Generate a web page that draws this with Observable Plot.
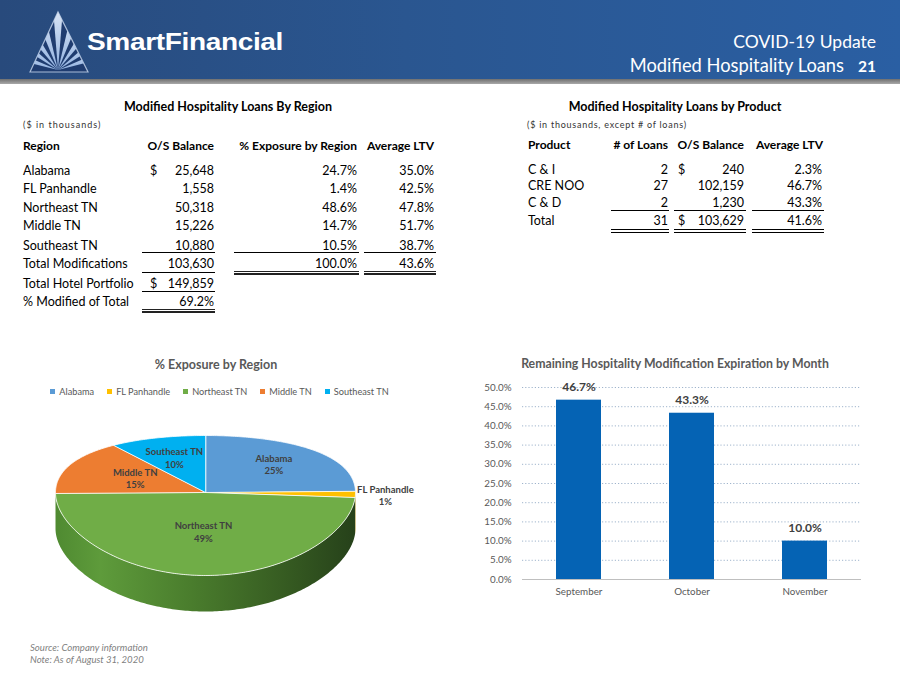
<!DOCTYPE html>
<html><head><meta charset="utf-8">
<script src="https://cdn.jsdelivr.net/npm/d3@7"></script>
<script src="https://cdn.jsdelivr.net/npm/@observablehq/plot@0.6"></script>
<style>
body{margin:0;width:900px;height:675px;position:relative;overflow:hidden;background:#fff;font-family:Lato,sans-serif;}
.abs{position:absolute;white-space:nowrap;line-height:1.2;}
.leg-swatches{font-size:9.2px;font-family:Lato,sans-serif;color:#595959;min-height:0;margin:0;justify-content:center;display:flex;align-items:center;flex-wrap:nowrap;}
.leg-swatch{margin-right:13px;display:inline-flex;align-items:center;}
.leg-swatch>svg{margin-right:4px;}
</style></head><body>
<script>
// ---------- DATA ----------
const regions = ["Alabama","FL Panhandle","Northeast TN","Middle TN","Southeast TN"];
const regionBalance = [25648,1558,50318,15226,10880];
const regionExposure = [24.7,1.4,48.6,14.7,10.5];
const regionLTV = [35.0,42.5,47.8,51.7,38.7];
const totalModifications = 103630, totalExposure = 100.0, totalLTV = 43.6;
const totalHotelPortfolio = 149859, pctModifiedOfTotal = 69.2;
const pieLabelPct = [25,1,49,15,10];

const products = ["C & I","CRE NOO","C & D"];
const productLoans = [2,27,2];
const productBalance = [240,102159,1230];
const productLTV = [2.3,46.7,43.3];
const productTotalLoans = 31, productTotalBalance = 103629, productTotalLTV = 41.6;

const months = ["September","October","November"];
const expirationPct = [46.7,43.3,10.0];

// ---------- STYLE ----------
const pieColors = ["#5B9BD5","#FFC000","#70AD47","#ED7D31","#00B0F0"];
const sideColors = ["#3f75a8","#b78a00","url(#neSide)","#b35c1f","#0088bb"];
const barColor = "#0563B4";
const REG = 12.5, BOLD = 12;

const body = document.body;
const fmt = d3.format(",");
function txt(x,y,s,o={}){
  const d=document.createElement("div");
  d.className="abs"; d.textContent=s;
  d.style.left=x+"px"; d.style.top=y+"px";
  d.style.fontSize=(o.size||REG)+"px";
  if(o.bold) d.style.fontWeight="bold";
  if(o.italic) d.style.fontStyle="italic";
  if(o.ls) d.style.letterSpacing=o.ls+"px";
  if(o.font) d.style.fontFamily=o.font;
  d.style.color=o.color||"#000";
  const tx=o.align==="right"?"-100%":o.align==="center"?"-50%":"0";
  d.style.transform=`translate(${tx},-50%)`+(o.extra||"");
  if(o.origin) d.style.transformOrigin=o.origin;
  body.appendChild(d); return d;
}
function hline(x1,x2,y,h=1,c="#000"){
  const d=document.createElement("div");
  d.style.cssText=`position:absolute;left:${x1}px;top:${y}px;width:${x2-x1}px;height:${h}px;background:${c}`;
  body.appendChild(d);
}
function box(css){const d=document.createElement("div");d.style.cssText="position:absolute;"+css;body.appendChild(d);return d;}

// ---------- HEADER ----------
box("left:0;top:0;width:900px;height:79px;background:linear-gradient(to right,#284a7c,#2a5690 45%,#2a5fa3)");
box("left:0;top:79px;width:900px;height:5px;background:linear-gradient(#6f6f6f,#a9a9a9)");
const logo = box("left:0;top:0;width:100px;height:80px");
logo.innerHTML = `<svg width="100" height="80" xmlns="http://www.w3.org/2000/svg">
<defs><clipPath id="tri"><polygon points="30,72 58,12 88,72"/></clipPath>
<linearGradient id="ray" x1="0" y1="1" x2="0" y2="0"><stop offset="0" stop-color="#8fb0e0"/><stop offset="1" stop-color="#ffffff"/></linearGradient></defs>
<polygon points="30,72 58,12 88,72" fill="#1f3c70" stroke="#a9bcd8" stroke-width="1.2"/>
<g clip-path="url(#tri)" id="rays"></g></svg>`;
(function(){const g=logo.querySelector("#rays");let s="";
 for(let k=0;k<9;k++){const a=(-160+k*17.5)*Math.PI/180, w=4.5*Math.PI/180, R=90;
  const p1=[58+R*Math.cos(a-w),72+R*Math.sin(a-w)], p2=[58+R*Math.cos(a+w),72+R*Math.sin(a+w)];
  s+=`<polygon points="58,70 ${p1[0]},${p1[1]} ${p2[0]},${p2[1]}" fill="url(#ray)"/>`;}
 g.innerHTML=s;})();
txt(87,43,"SmartFinancial",{size:23,bold:true,color:"#fff",font:"'Liberation Sans',Arial,sans-serif",extra:" scaleX(1.22)",origin:"0 50%",ls:-0.3});
txt(876,41,"COVID-19 Update",{size:17.5,color:"#fff",align:"right"});
const t2=txt(876,66,"",{size:18.3,color:"#fff",align:"right"});
t2.innerHTML='Modified Hospitality Loans&nbsp;&nbsp;&nbsp;<b style="font-size:15.5px">21</b>';

// ---------- LEFT TABLE ----------
txt(228,106,"Modified Hospitality Loans By Region",{bold:true,align:"center",size:12.5});
txt(23,125,"($ in thousands)",{size:9,ls:1,color:"#333"});
txt(23,146,"Region",{bold:true,size:BOLD});
txt(214,146,"O/S Balance",{bold:true,align:"right",size:BOLD});
txt(357,146,"% Exposure by Region",{bold:true,align:"right",size:BOLD});
txt(434,146,"Average LTV",{bold:true,align:"right",size:BOLD});
const rowY=[170,188,207,225,245];
regions.forEach((r,i)=>{
  txt(23,rowY[i],r);
  if(i===0) txt(150,rowY[i],"$");
  txt(214,rowY[i],fmt(regionBalance[i]),{align:"right"});
  txt(357,rowY[i],regionExposure[i].toFixed(1)+"%",{align:"right"});
  txt(434,rowY[i],regionLTV[i].toFixed(1)+"%",{align:"right"});
});
hline(142,215,252); hline(234,359,252); hline(364,436,252);
txt(23,263,"Total Modifications");
txt(214,263,fmt(totalModifications),{align:"right"});
txt(357,263,totalExposure.toFixed(1)+"%",{align:"right"});
txt(434,263,totalLTV.toFixed(1)+"%",{align:"right"});
hline(142,215,272);
hline(234,359,271,1,"#222"); hline(234,359,273,1.5,"#222");
hline(364,436,271,1,"#222"); hline(364,436,273,1.5,"#222");
txt(23,283,"Total Hotel Portfolio");
txt(150,283,"$");
txt(214,283,fmt(totalHotelPortfolio),{align:"right"});
hline(142,215,291);
txt(23,301,"% Modified of Total");
txt(214,301,pctModifiedOfTotal.toFixed(1)+"%",{align:"right"});
hline(142,215,309,1,"#222"); hline(142,215,311,1.5,"#222");

// ---------- RIGHT TABLE ----------
txt(675,106,"Modified Hospitality Loans by Product",{bold:true,align:"center",size:12.5});
txt(527,125,"($ in thousands, except # of loans)",{size:9,ls:0.75,color:"#333"});
txt(528,145,"Product",{bold:true,size:BOLD});
txt(668,145,"# of Loans",{bold:true,align:"right",size:BOLD});
txt(744,145,"O/S Balance",{bold:true,align:"right",size:BOLD});
txt(823,145,"Average LTV",{bold:true,align:"right",size:BOLD});
const pY=[169,185,202];
products.forEach((p,i)=>{
  txt(528,pY[i],p);
  txt(668,pY[i],String(productLoans[i]),{align:"right"});
  if(i===0) txt(678,pY[i],"$");
  txt(744,pY[i],fmt(productBalance[i]),{align:"right"});
  txt(822,pY[i],productLTV[i].toFixed(1)+"%",{align:"right"});
});
hline(611,669,210); hline(674,746,210); hline(752,824,210);
txt(528,220,"Total");
txt(668,220,String(productTotalLoans),{align:"right"});
txt(678,220,"$");
txt(744,220,fmt(productTotalBalance),{align:"right"});
txt(822,220,productTotalLTV.toFixed(1)+"%",{align:"right"});
[229,231.5].forEach(y=>{hline(611,669,y);hline(674,746,y);hline(752,824,y);});

// ---------- PIE ----------
txt(216,364,"% Exposure by Region",{bold:true,align:"center",size:12.5,color:"#595959"});
const legWrap = box("left:26px;top:385px;width:400px;height:12px;display:flex;justify-content:center;align-items:center");
legWrap.appendChild(Plot.legend({color:{type:"ordinal",domain:regions,range:pieColors},legend:"swatches",swatchSize:5,className:"leg"}));

const RX=150, depth=36/RX;
function facePt(a,f=1){const t=a-Math.PI/2, s=Math.sin(t); return {x:f*Math.cos(t), y:f*s*(70+13*s)/RX};}
const pieTotal=d3.sum(regionExposure);
let cum=0;
const slices=regions.map((name,i)=>{const a0=cum/pieTotal*2*Math.PI; cum+=regionExposure[i]; return {name,i,a0,a1:cum/pieTotal*2*Math.PI};});
function arcPts(a0,a1,dz=0){const n=Math.max(2,Math.ceil((a1-a0)/0.015)); return d3.range(n+1).map(k=>{const p=facePt(a0+(a1-a0)*k/n); return {x:p.x,y:p.y+dz};});}
const sideMarks=slices.flatMap(s=>{
  const b0=Math.max(s.a0,Math.PI/2), b1=Math.min(s.a1,1.5*Math.PI);
  if(b1<=b0) return [];
  const pts=[...arcPts(b0,b1),...arcPts(b0,b1,depth).reverse()];
  return [Plot.line(pts,{x:"x",y:"y",curve:"linear-closed",fill:sideColors[s.i],stroke:"none"})];
});
const faceMarks=slices.map(s=>Plot.line([{x:0,y:0},...arcPts(s.a0,s.a1)],{x:"x",y:"y",curve:"linear-closed",fill:pieColors[s.i],stroke:"#ffffff",strokeWidth:0.8,strokeLinejoin:"round"}));
const labelF=[0.65,1.2,0.47,0.52,0.64];
const labelData=slices.map(s=>{const p=facePt((s.a0+s.a1)/2,labelF[s.i]); return {x:p.x,y:p.y,text:`${s.name}\n${pieLabelPct[s.i]}%`};});
const pie=Plot.plot({
  width:420,height:200,margin:0,axis:null,
  x:{domain:[-205/RX,215/RX],range:[0,420]},
  y:{domain:[-72/RX,128/RX],range:[0,200]},
  style:{background:"transparent",overflow:"visible"},
  marks:[...sideMarks,...faceMarks,
    Plot.text(labelData,{x:"x",y:"y",text:"text",fill:"#404040",fontWeight:"bold",fontSize:9.5,fontFamily:"Lato",lineHeight:1.3})]
});
const ns="http://www.w3.org/2000/svg";
const defs=document.createElementNS(ns,"defs");
defs.innerHTML=`<linearGradient id="neSide" x1="0" x2="1" y1="0" y2="0">
<stop offset="0" stop-color="#4f8a31"/><stop offset="0.15" stop-color="#5e9b3b"/><stop offset="0.45" stop-color="#4a7d2d"/><stop offset="0.75" stop-color="#375d22"/><stop offset="1" stop-color="#26411a"/></linearGradient>`;
pie.insertBefore(defs,pie.firstChild);
const pieBox=box("left:0;top:420px;width:420px;height:200px");
pieBox.appendChild(pie);

// ---------- BAR CHART ----------
txt(675,364,"Remaining Hospitality Modification Expiration by Month",{bold:true,align:"center",size:12.3,color:"#595959"});
const barData=months.map((m,i)=>({month:m,value:expirationPct[i]}));
const bar=Plot.plot({
  width:400,height:230,marginLeft:52,marginRight:9,marginTop:12,marginBottom:26,
  style:{background:"transparent",fontFamily:"Lato",fontSize:"9.8px",color:"#595959"},
  x:{domain:months,paddingInner:0.6,paddingOuter:0.3,label:null,tickSize:0,tickPadding:9},
  y:{domain:[0,50],ticks:d3.range(0,50.01,5),tickFormat:d=>d.toFixed(1)+"%",label:null,tickSize:0,tickPadding:11},
  marks:[
    Plot.gridY(d3.range(5,50.01,5),{stroke:"#9fb4cc",strokeOpacity:1,strokeDasharray:"1.2,2"}),
    Plot.ruleY([0],{stroke:"#bfbfbf"}),
    Plot.barY(barData,{x:"month",y:"value",fill:barColor}),
    Plot.text(barData,{x:"month",y:"value",text:d=>d.value.toFixed(1)+"%",dy:-13,fontWeight:"bold",fontSize:12,fill:"#404040"})
  ]
});
const barBox=box("left:470px;top:375px;width:400px;height:230px");
barBox.appendChild(bar);

// ---------- FOOTER ----------
txt(30,648,"Source: Company information",{italic:true,size:9.6,color:"#7f7f7f"});
txt(30,660,"Note: As of August 31, 2020",{italic:true,size:9.6,color:"#7f7f7f"});
</script>
</body></html>
